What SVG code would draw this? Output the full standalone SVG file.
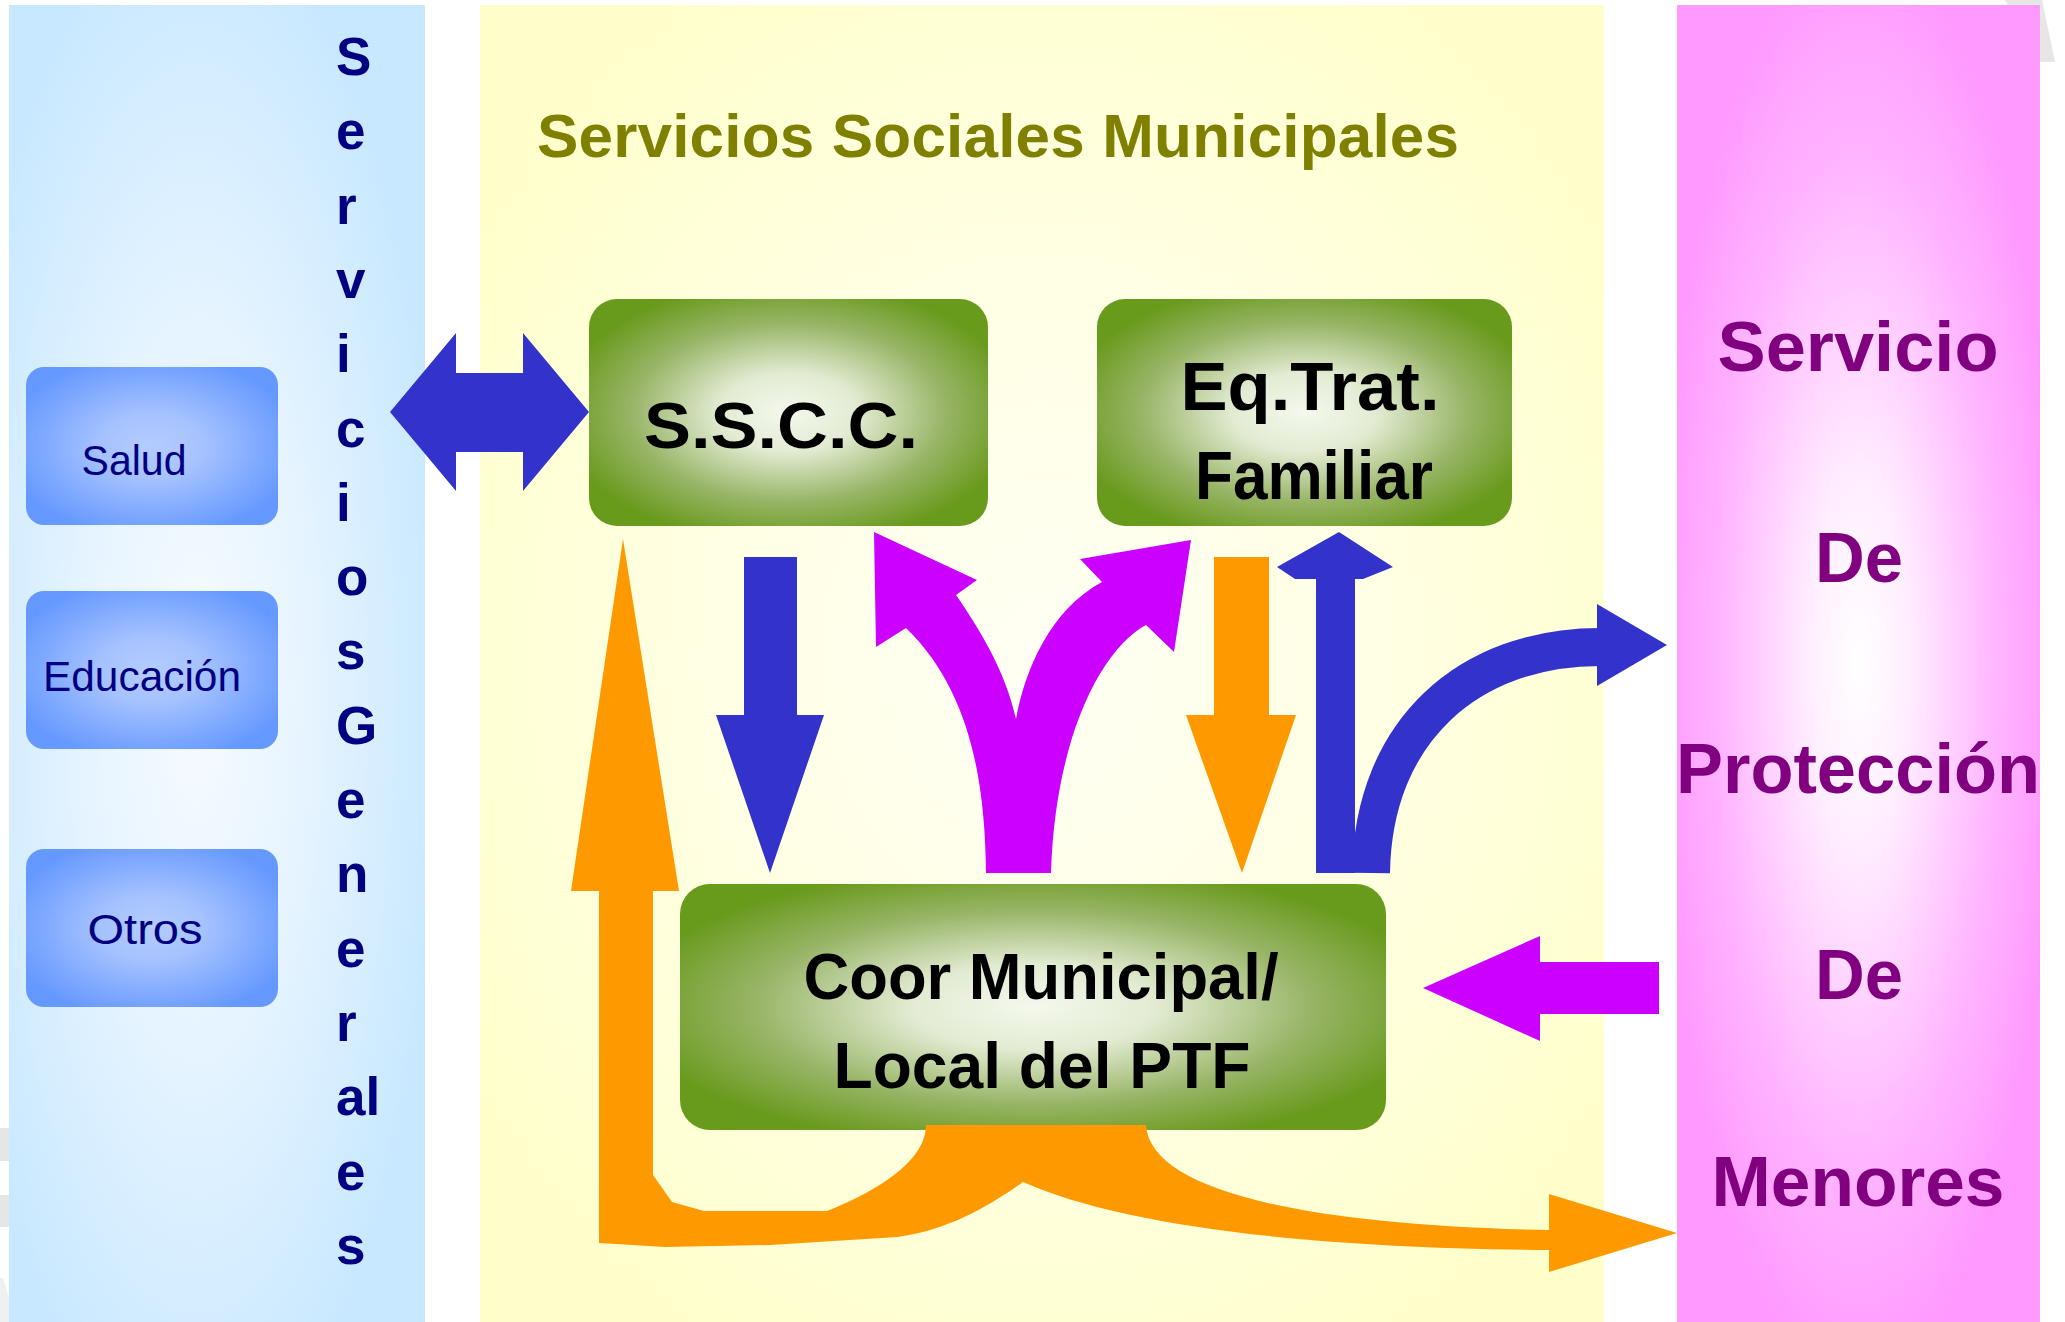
<svg xmlns="http://www.w3.org/2000/svg" width="2065" height="1322" viewBox="0 0 2065 1322">
<defs>
<radialGradient id="gLeft" cx="0.45" cy="0.52" r="0.6">
<stop offset="0" stop-color="#F7FBFF"/><stop offset="0.45" stop-color="#E6F4FF"/><stop offset="1" stop-color="#C8E8FF"/>
</radialGradient>
<radialGradient id="gMid" cx="0.5" cy="0.5" r="0.6">
<stop offset="0" stop-color="#FFFFF4"/><stop offset="0.5" stop-color="#FFFFE4"/><stop offset="1" stop-color="#FFFFCC"/>
</radialGradient>
<radialGradient id="gPink" cx="0.5" cy="0.5" r="0.55">
<stop offset="0" stop-color="#FFFFFF"/><stop offset="0.25" stop-color="#FFEEFF"/><stop offset="0.7" stop-color="#FFB4FF"/><stop offset="1" stop-color="#FF99FF"/>
</radialGradient>
<radialGradient id="gGreen" cx="0.5" cy="0.5" r="0.58">
<stop offset="0" stop-color="#F4F8EE"/><stop offset="0.3" stop-color="#E2EBD2"/><stop offset="0.68" stop-color="#98B466"/><stop offset="1" stop-color="#689A1C"/>
</radialGradient>
<radialGradient id="gBlue" cx="0.5" cy="0.5" r="0.58">
<stop offset="0" stop-color="#B4CCFF"/><stop offset="0.35" stop-color="#A6C2FF"/><stop offset="1" stop-color="#6699FF"/>
</radialGradient>
<style>
.sans{font-family:"Liberation Sans",Arial,sans-serif}
.vert{font-family:"Liberation Sans",Arial,sans-serif;font-weight:bold;font-size:53px;fill:#000080}
.small{font-family:"Liberation Sans",Arial,sans-serif;font-size:42px;fill:#000080}
.boxtxt{font-family:"Liberation Sans",Arial,sans-serif;font-weight:bold;fill:#000000}
.pinktxt{font-family:"Liberation Sans",Arial,sans-serif;font-weight:bold;font-size:70px;fill:#800080}
.blue{fill:#3333CC}
.orange{fill:#FF9900}
.mag{fill:#CC00FF}
</style>
</defs>
<rect x="0" y="0" width="2065" height="1322" fill="#FFFFFF"/>
<g id="watermark" fill="#E6E6E6">
<polygon points="2005,0 2042,0 2055,62 2038,62"/>
<rect x="0" y="1128" width="9" height="33"/>
<rect x="0" y="1195" width="9" height="32"/>
<polygon points="0,1278 3,1278 9,1298 9,1322 0,1322" fill="#F0F0F0"/>
</g>
<g id="panel-servicios-generales">
<rect x="9" y="5" width="416" height="1317" fill="url(#gLeft)"/>
<text class="vert" x="336">
<tspan x="336" y="75">S</tspan><tspan x="336" y="149">e</tspan><tspan x="336" y="224">r</tspan><tspan x="336" y="298">v</tspan><tspan x="336" y="372">i</tspan><tspan x="336" y="447">c</tspan><tspan x="336" y="521">i</tspan><tspan x="336" y="595">o</tspan><tspan x="336" y="669">s</tspan><tspan x="336" y="744">G</tspan><tspan x="336" y="818">e</tspan><tspan x="336" y="892">n</tspan><tspan x="336" y="967">e</tspan><tspan x="336" y="1041">r</tspan><tspan x="336" y="1115">al</tspan><tspan x="336" y="1190">e</tspan><tspan x="336" y="1264">s</tspan>
</text>
</g>
<g id="panel-servicios-sociales">
<rect x="480" y="5" width="1124" height="1317" fill="url(#gMid)"/>
<text class="sans" x="998" y="157" text-anchor="middle" font-weight="bold" font-size="62" fill="#808000" textLength="922" lengthAdjust="spacing">Servicios Sociales Municipales</text>
</g>
<g id="panel-proteccion-menores">
<rect x="1677" y="5" width="363" height="1317" fill="url(#gPink)"/>
<text class="pinktxt" x="1858" y="371" text-anchor="middle" textLength="281" lengthAdjust="spacingAndGlyphs">Servicio</text>
<text class="pinktxt" x="1859" y="582" text-anchor="middle" textLength="88" lengthAdjust="spacingAndGlyphs">De</text>
<text class="pinktxt" x="1858" y="793" text-anchor="middle" textLength="364" lengthAdjust="spacingAndGlyphs">Protección</text>
<text class="pinktxt" x="1859" y="999" text-anchor="middle" textLength="88" lengthAdjust="spacingAndGlyphs">De</text>
<text class="pinktxt" x="1858" y="1206" text-anchor="middle" textLength="293" lengthAdjust="spacingAndGlyphs">Menores</text>
</g>
<g id="node-salud">
<rect x="26" y="367" width="252" height="158" rx="18" fill="url(#gBlue)"/>
<text class="small" x="134" y="475" text-anchor="middle" textLength="105" lengthAdjust="spacingAndGlyphs">Salud</text>
</g>
<g id="node-educacion">
<rect x="26" y="591" width="252" height="158" rx="18" fill="url(#gBlue)"/>
<text class="small" x="142" y="691" text-anchor="middle" textLength="198" lengthAdjust="spacingAndGlyphs">Educación</text>
</g>
<g id="node-otros">
<rect x="26" y="849" width="252" height="158" rx="18" fill="url(#gBlue)"/>
<text class="small" x="145" y="944" text-anchor="middle" textLength="115" lengthAdjust="spacingAndGlyphs">Otros</text>
</g>
<g id="node-sscc">
<rect x="589" y="299" width="399" height="227" rx="28" fill="url(#gGreen)"/>
<text class="boxtxt" x="781" y="448" font-size="65" text-anchor="middle" textLength="274" lengthAdjust="spacingAndGlyphs">S.S.C.C.</text>
</g>
<g id="node-eqtrat">
<rect x="1097" y="299" width="415" height="227" rx="28" fill="url(#gGreen)"/>
<text class="boxtxt" x="1310" y="410" font-size="68" text-anchor="middle" textLength="259" lengthAdjust="spacingAndGlyphs">Eq.Trat.</text>
<text class="boxtxt" x="1314" y="499" font-size="68" text-anchor="middle" textLength="238" lengthAdjust="spacingAndGlyphs">Familiar</text>
</g>
<g id="node-coor">
<rect x="680" y="884" width="706" height="246" rx="30" fill="url(#gGreen)"/>
<text class="boxtxt" x="1041" y="999" font-size="64" text-anchor="middle" textLength="475" lengthAdjust="spacingAndGlyphs">Coor Municipal/</text>
<text class="boxtxt" x="1042" y="1088" font-size="64" text-anchor="middle" textLength="417" lengthAdjust="spacingAndGlyphs">Local del PTF</text>
</g>
<g id="connectors">
<polygon class="blue" points="390,412 456,333 456,373 523,373 523,333 589,412 523,491 523,452 456,452 456,491"/>
<polygon class="blue" points="744,557 797,557 797,715 824,715 770,873 716,715 744,715"/>
<polygon class="orange" points="1214,557 1269,557 1269,715 1296,715 1242,873 1186,715 1214,715"/>
<polygon class="blue" points="1316,873 1316,579 1295,579 1277,567 1339,532 1393,567 1363,579 1355,579 1355,873"/>
<path d="M 1371 873 C 1373 730 1470 647 1600 647" fill="none" stroke="#3333CC" stroke-width="38"/>
<polygon class="blue" points="1597,604 1667,645 1597,686"/>
<path class="mag" d="M 986 873 C 985 780 970 690 906 628 L 876 647 L 874 532 L 977 580 L 956 595 C 980 630 1005 670 1016 719 C 1025 670 1050 610 1102 582 L 1080 559 L 1191 540 L 1174 652 L 1146 625 C 1100 650 1055 740 1051 873 Z"/>
<polygon class="mag" points="1423,988 1540,936 1540,962 1659,962 1659,1014 1540,1014 1540,1041"/>
<path class="orange" d="M 623 539 L 679 891 L 653 891 L 653 1175 L 672 1202 L 704 1211 L 827 1211 C 880 1190 926 1160 926 1125 L 1146 1125 C 1150 1190 1300 1225 1549 1230 L 1549 1194 L 1677 1233 L 1549 1272 L 1549 1250 C 1300 1248 1120 1225 1023 1182 C 990 1205 950 1230 897 1237 L 770 1245 L 665 1247 L 599 1243 L 599 891 L 571 891 Z"/>
</g>
</svg>
